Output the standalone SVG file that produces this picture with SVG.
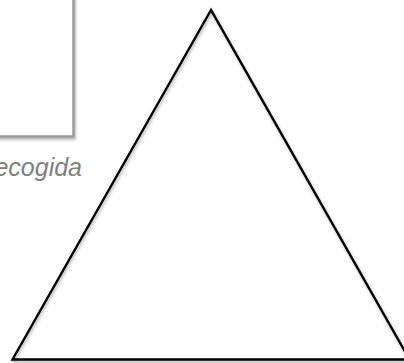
<svg xmlns="http://www.w3.org/2000/svg" width="404" height="363" viewBox="0 0 404 363">
  <defs>
    <filter id="sh" x="-10%" y="-10%" width="130%" height="130%">
      <feDropShadow dx="1" dy="2" stdDeviation="1.5" flood-color="#000" flood-opacity="0.3"/>
    </filter>
    <style>
      .box { fill: #fff; stroke: #9a9a9a; stroke-width: 2.5; }
      .tri { fill: none; stroke: #000; stroke-width: 2.4; stroke-linejoin: miter; }
      .lbl { font-family: "Liberation Sans", Arial, sans-serif; font-style: italic; font-size: 25px; fill: #808080; }
    </style>
  </defs>
  <rect width="404" height="363" fill="#fff"/>
  <g id="recogida">
    <rect class="box" x="-10" y="-10" width="83.5" height="146.5" filter="url(#sh)"/>
    <text class="lbl" x="82" y="176" text-anchor="end">Recogida</text>
  </g>
  <g id="triangle">
    <polygon class="tri" points="211,10 12.5,359.5 409.5,359.5" filter="url(#sh)"/>
  </g>
  <g id="connectors"></g>
</svg>
